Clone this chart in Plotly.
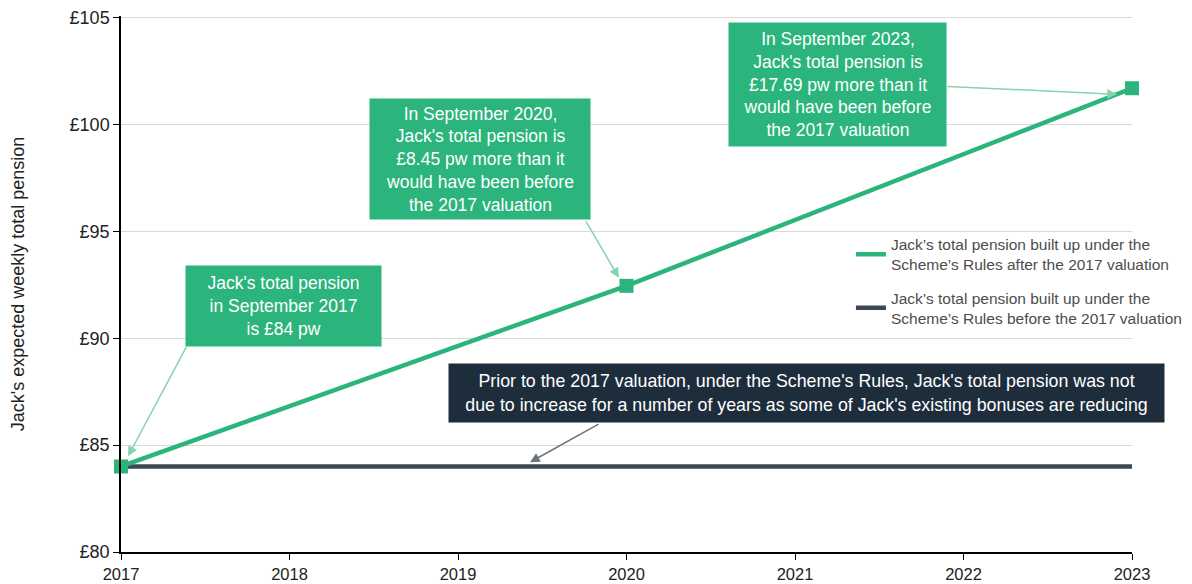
import plotly.graph_objects as go

years_after = [2017, 2020, 2023]
pension_after = [84.00, 92.45, 101.69]
years_before = [2017, 2023]
pension_before = [84.00, 84.00]
y_ticks = [80, 85, 90, 95, 100, 105]
y_tick_labels = ["£80", "£85", "£90", "£95", "£100", "£105"]
x_ticks = [2017, 2018, 2019, 2020, 2021, 2022, 2023]

GREEN = "#2bb47c"
ARROW_GREEN = "#86d3ad"
DARK = "#1e2d3c"
DARK_LINE = "#3c4853"
FONT = "Liberation Sans, Arial, sans-serif"

name_after = "Jack’s total pension built up under the<br>Scheme’s Rules after the 2017 valuation"
name_before = "Jack’s total pension built up under the<br>Scheme’s Rules before the 2017 valuation"

fig = go.Figure()
fig.add_trace(go.Scatter(
    x=years_before, y=pension_before, mode="lines",
    line=dict(color=DARK_LINE, width=4.5),
    name=name_before, legendgroup="b", legendrank=2, cliponaxis=False,
))
fig.add_trace(go.Scatter(
    x=years_after, y=pension_after, mode="lines",
    line=dict(color=GREEN, width=4.5),
    name=name_after, legendgroup="a", legendrank=1, cliponaxis=False,
))
fig.add_trace(go.Scatter(
    x=years_after, y=pension_after, mode="markers",
    marker=dict(symbol="square", size=14, color=GREEN),
    showlegend=False, hoverinfo="skip", cliponaxis=False,
))

annotations = []

def arrow(tx, ty, hx, hy, color, width=1.5):
    annotations.append(dict(
        x=hx, y=hy, ax=tx, ay=ty, xref="x", yref="y", axref="x", ayref="y",
        text="", showarrow=True, arrowhead=2, arrowsize=1.3, arrowwidth=width,
        arrowcolor=color, standoff=0, startstandoff=0,
    ))

def box(cx, cy, text, w, h, bg, size=17.5):
    annotations.append(dict(
        x=cx, y=cy, xref="x", yref="y", text=text, showarrow=False,
        bgcolor=bg, width=w, height=h, borderpad=0, align="center",
        valign="middle", font=dict(family=FONT, size=size, color="white"),
    ))

arrow(2017.392, 89.65, 2017.042, 84.48, ARROW_GREEN)
arrow(2019.754, 95.53, 2019.955, 92.83, ARROW_GREEN)
arrow(2021.896, 101.78, 2022.911, 101.41, ARROW_GREEN)
arrow(2019.843, 86.02, 2019.427, 84.20, "#6b737b")

box(2017.967, 91.52, "Jack's total pension<br>in September 2017<br>is £84 pw", 195, 80, GREEN)
box(2019.131, 98.38, "In September 2020,<br>Jack's total pension is<br>£8.45 pw more than it<br>would have been before<br>the 2017 valuation", 220, 120, GREEN)
box(2021.252, 101.85, "In September 2023,<br>Jack's total pension is<br>£17.69 pw more than it<br>would have been before<br>the 2017 valuation", 217, 123, GREEN)
box(2021.068, 87.42, "Prior to the 2017 valuation, under the Scheme's Rules, Jack's total pension was not<br>due to increase for a number of years as some of Jack's existing bonuses are reducing", 715, 58, DARK, size=17.8)

fig.update_layout(
    width=1184, height=576,
    margin=dict(l=113, r=60, t=8, b=32, autoexpand=False),
    paper_bgcolor="white", plot_bgcolor="white",
    font=dict(family=FONT, color="#222222"),
    showlegend=True,
    legend=dict(
        x=0.722, y=0.605, xanchor="left", yanchor="top",
        font=dict(family=FONT, size=15.5, color="#4d4d4d"),
        bgcolor="rgba(0,0,0,0)", tracegroupgap=10, traceorder="grouped",
    ),
    annotations=annotations,
)
fig.update_xaxes(
    range=[2017, 2023], tickvals=x_ticks, ticktext=[str(v) for v in x_ticks],
    showgrid=False, zeroline=False, showline=True, linecolor="black", linewidth=1.5,
    ticks="outside", ticklen=6, tickcolor="black", ticklabeloverflow="allow",
    tickfont=dict(family=FONT, size=16.5, color="#222222"),
)
fig.update_yaxes(
    range=[80, 105.07], tickvals=y_ticks, ticktext=y_tick_labels,
    showgrid=True, gridcolor="#d9d9d9", gridwidth=1, zeroline=False,
    showline=True, linecolor="black", linewidth=1.5,
    ticks="outside", ticklen=6, tickcolor="black", ticklabeloverflow="allow",
    tickfont=dict(family=FONT, size=18, color="#222222"),
    title=dict(text="Jack's expected weekly total pension", standoff=40,
               font=dict(family=FONT, size=18, color="#222222")),
)

fig.write_html("out.html")
